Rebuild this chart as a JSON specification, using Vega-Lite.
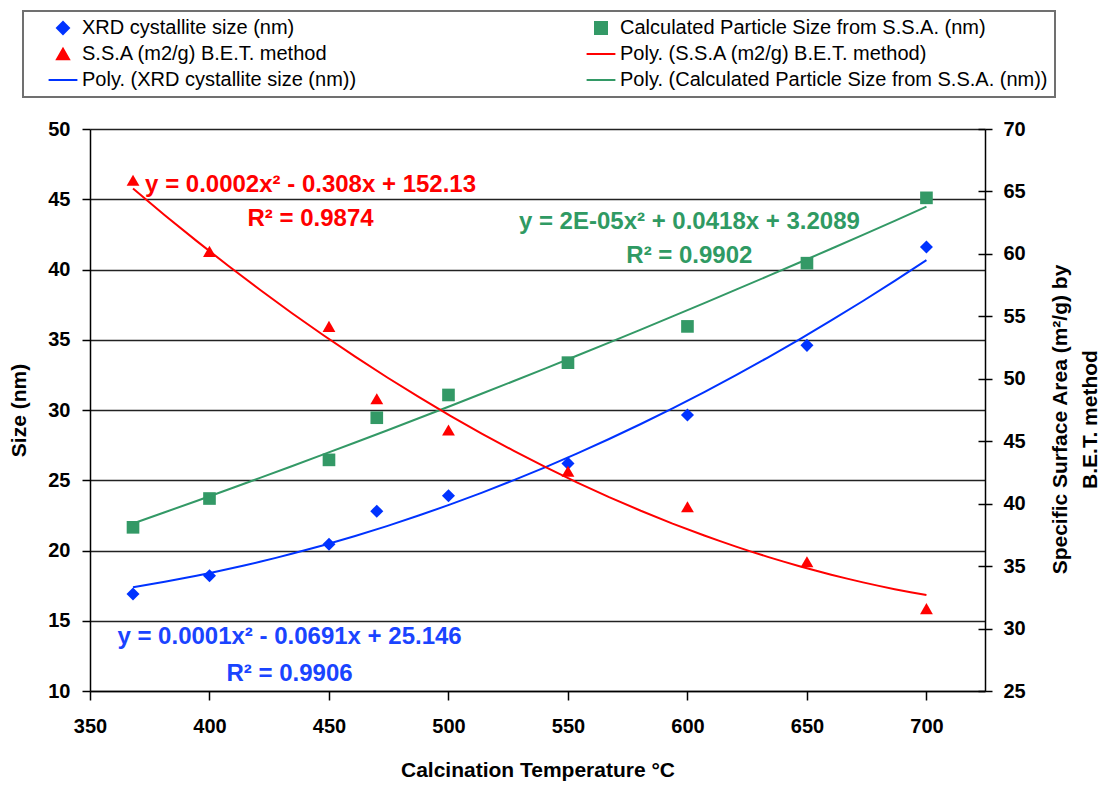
{
  "$schema": "https://vega.github.io/schema/vega-lite/v6.json",
  "width": 895,
  "height": 562,
  "autosize": {"type": "none"},
  "padding": {"left": 90, "top": 129, "right": 114, "bottom": 94},
  "background": "white",
  "config": {
    "font": "Liberation Sans",
    "view": {"stroke": null},
    "axis": {
      "labelFont": "Liberation Sans",
      "labelFontSize": 20,
      "labelFontWeight": "bold",
      "labelColor": "#000000",
      "titleFont": "Liberation Sans",
      "titleFontSize": 21,
      "titleFontWeight": "bold",
      "titleColor": "#000000",
      "domainColor": "#000000",
      "domainWidth": 1.5,
      "tickColor": "#000000",
      "tickWidth": 1.5,
      "labelFlush": false,
      "labelOverlap": false
    }
  },
  "data": {
    "values": [
      {"temp": 368, "value": 16.9, "series": "XRD cystallite size (nm)", "trend": "Poly. (XRD cystallite size (nm))"},
      {"temp": 400, "value": 18.2, "series": "XRD cystallite size (nm)", "trend": "Poly. (XRD cystallite size (nm))"},
      {"temp": 450, "value": 20.45, "series": "XRD cystallite size (nm)", "trend": "Poly. (XRD cystallite size (nm))"},
      {"temp": 470, "value": 22.8, "series": "XRD cystallite size (nm)", "trend": "Poly. (XRD cystallite size (nm))"},
      {"temp": 500, "value": 23.9, "series": "XRD cystallite size (nm)", "trend": "Poly. (XRD cystallite size (nm))"},
      {"temp": 550, "value": 26.2, "series": "XRD cystallite size (nm)", "trend": "Poly. (XRD cystallite size (nm))"},
      {"temp": 600, "value": 29.65, "series": "XRD cystallite size (nm)", "trend": "Poly. (XRD cystallite size (nm))"},
      {"temp": 650, "value": 34.6, "series": "XRD cystallite size (nm)", "trend": "Poly. (XRD cystallite size (nm))"},
      {"temp": 700, "value": 41.6, "series": "XRD cystallite size (nm)", "trend": "Poly. (XRD cystallite size (nm))"},
      {"temp": 368, "value": 21.65, "series": "Calculated Particle Size from S.S.A. (nm)", "trend": "Poly. (Calculated Particle Size from S.S.A. (nm))"},
      {"temp": 400, "value": 23.7, "series": "Calculated Particle Size from S.S.A. (nm)", "trend": "Poly. (Calculated Particle Size from S.S.A. (nm))"},
      {"temp": 450, "value": 26.45, "series": "Calculated Particle Size from S.S.A. (nm)", "trend": "Poly. (Calculated Particle Size from S.S.A. (nm))"},
      {"temp": 470, "value": 29.45, "series": "Calculated Particle Size from S.S.A. (nm)", "trend": "Poly. (Calculated Particle Size from S.S.A. (nm))"},
      {"temp": 500, "value": 31.07, "series": "Calculated Particle Size from S.S.A. (nm)", "trend": "Poly. (Calculated Particle Size from S.S.A. (nm))"},
      {"temp": 550, "value": 33.37, "series": "Calculated Particle Size from S.S.A. (nm)", "trend": "Poly. (Calculated Particle Size from S.S.A. (nm))"},
      {"temp": 600, "value": 35.95, "series": "Calculated Particle Size from S.S.A. (nm)", "trend": "Poly. (Calculated Particle Size from S.S.A. (nm))"},
      {"temp": 650, "value": 40.45, "series": "Calculated Particle Size from S.S.A. (nm)", "trend": "Poly. (Calculated Particle Size from S.S.A. (nm))"},
      {"temp": 700, "value": 45.1, "series": "Calculated Particle Size from S.S.A. (nm)", "trend": "Poly. (Calculated Particle Size from S.S.A. (nm))"},
      {"temp": 368, "value": 65.9, "series": "S.S.A (m2/g) B.E.T. method", "trend": "Poly. (S.S.A (m2/g) B.E.T. method)"},
      {"temp": 400, "value": 60.2, "series": "S.S.A (m2/g) B.E.T. method", "trend": "Poly. (S.S.A (m2/g) B.E.T. method)"},
      {"temp": 450, "value": 54.2, "series": "S.S.A (m2/g) B.E.T. method", "trend": "Poly. (S.S.A (m2/g) B.E.T. method)"},
      {"temp": 470, "value": 48.4, "series": "S.S.A (m2/g) B.E.T. method", "trend": "Poly. (S.S.A (m2/g) B.E.T. method)"},
      {"temp": 500, "value": 45.9, "series": "S.S.A (m2/g) B.E.T. method", "trend": "Poly. (S.S.A (m2/g) B.E.T. method)"},
      {"temp": 550, "value": 42.6, "series": "S.S.A (m2/g) B.E.T. method", "trend": "Poly. (S.S.A (m2/g) B.E.T. method)"},
      {"temp": 600, "value": 39.75, "series": "S.S.A (m2/g) B.E.T. method", "trend": "Poly. (S.S.A (m2/g) B.E.T. method)"},
      {"temp": 650, "value": 35.35, "series": "S.S.A (m2/g) B.E.T. method", "trend": "Poly. (S.S.A (m2/g) B.E.T. method)"},
      {"temp": 700, "value": 31.6, "series": "S.S.A (m2/g) B.E.T. method", "trend": "Poly. (S.S.A (m2/g) B.E.T. method)"}
    ]
  },
  "encoding": {
    "x": {
      "field": "temp",
      "type": "quantitative",
      "scale": {"domain": [350, 724.5], "nice": false, "zero": false},
      "axis": {
        "orient": "bottom",
        "values": [350, 400, 450, 500, 550, 600, 650, 700],
        "grid": false,
        "tickSize": 9,
        "labelPadding": 16,
        "title": "Calcination Temperature °C",
        "titlePadding": 23
      }
    }
  },
  "layer": [
    {
      "encoding": {
        "y": {
          "field": "value",
          "type": "quantitative",
          "scale": {"domain": [10, 50], "nice": false, "zero": false},
          "axis": {
            "orient": "left",
            "values": [10, 15, 20, 25, 30, 35, 40, 45, 50],
            "grid": true,
            "gridColor": "#222222",
            "gridWidth": 1.5,
            "tickSize": 8,
            "labelPadding": 12,
            "title": "Size (nm)",
            "titlePadding": 18
          }
        }
      },
      "layer": [
        {
          "transform": [{"filter": {"field": "series", "oneOf": ["XRD cystallite size (nm)", "Calculated Particle Size from S.S.A. (nm)"]}}],
          "mark": {"type": "point", "filled": true, "opacity": 1},
          "encoding": {
            "color": {"field": "series", "type": "nominal", "title": null,
              "scale": {"domain": ["XRD cystallite size (nm)", "S.S.A (m2/g) B.E.T. method", "Poly. (XRD cystallite size (nm))", "Calculated Particle Size from S.S.A. (nm)", "Poly. (S.S.A (m2/g) B.E.T. method)", "Poly. (Calculated Particle Size from S.S.A. (nm))"],
                        "range": ["#0033ff", "#ff0000", "#0033ff", "#339966", "#ff0000", "#339966"]},
              "legend": {"orient": "none", "legendX": -67, "legendY": -118, "columns": 2, "labelFont": "Liberation Sans", "labelFontSize": 20, "labelColor": "#000000", "labelLimit": 800, "padding": 7, "strokeColor": "#707070", "fillColor": "#ffffff", "clipHeight": 20, "rowPadding": 6, "columnPadding": 211, "symbolSize": 144, "symbolOffset": 23, "labelOffset": 9, "symbolStrokeWidth": 2,
                "labelExpr": "datum.label === 'Poly. (Calculated Particle Size from S.S.A. (nm))' ? datum.label + '\u00a0\u00a0\u00a0\u00a0\u00a0\u00a0\u00a0\u00a0' : datum.label",
                "encode": {"symbols": {"update": {"stroke": {"scale": "color", "field": "value"}}}, "legend": {"update": {"strokeWidth": {"value": 2}}}}}},
            "shape": {"field": "series", "type": "nominal", "title": null,
              "scale": {"domain": ["XRD cystallite size (nm)", "S.S.A (m2/g) B.E.T. method", "Poly. (XRD cystallite size (nm))", "Calculated Particle Size from S.S.A. (nm)", "Poly. (S.S.A (m2/g) B.E.T. method)", "Poly. (Calculated Particle Size from S.S.A. (nm))"],
                        "range": ["diamond", "triangle-up", "M-2.4,0L2.4,0", "square", "M-2.4,0L2.4,0", "M-2.4,0L2.4,0"]}},
            "size": {"field": "series", "type": "nominal", "legend": null,
              "scale": {"domain": ["XRD cystallite size (nm)", "S.S.A (m2/g) B.E.T. method", "Calculated Particle Size from S.S.A. (nm)"],
                        "range": [170, 160, 130]}}
          }
        },
        {
          "transform": [
            {"filter": {"field": "series", "oneOf": ["XRD cystallite size (nm)", "Calculated Particle Size from S.S.A. (nm)"]}},
            {"regression": "value", "on": "temp", "groupby": ["trend"], "method": "poly", "order": 2}
          ],
          "mark": {"type": "line", "strokeWidth": 2},
          "encoding": {
            "color": {"field": "trend", "type": "nominal", "title": null,
              "scale": {"domain": ["XRD cystallite size (nm)", "S.S.A (m2/g) B.E.T. method", "Poly. (XRD cystallite size (nm))", "Calculated Particle Size from S.S.A. (nm)", "Poly. (S.S.A (m2/g) B.E.T. method)", "Poly. (Calculated Particle Size from S.S.A. (nm))"],
                        "range": ["#0033ff", "#ff0000", "#0033ff", "#339966", "#ff0000", "#339966"]},
              "legend": {"orient": "none", "legendX": -67, "legendY": -118, "columns": 2, "labelFont": "Liberation Sans", "labelFontSize": 20, "labelColor": "#000000", "labelLimit": 800, "padding": 7, "strokeColor": "#707070", "fillColor": "#ffffff", "clipHeight": 20, "rowPadding": 6, "columnPadding": 211, "symbolSize": 144, "symbolOffset": 23, "labelOffset": 9, "symbolStrokeWidth": 2,
                "labelExpr": "datum.label === 'Poly. (Calculated Particle Size from S.S.A. (nm))' ? datum.label + '\u00a0\u00a0\u00a0\u00a0\u00a0\u00a0\u00a0\u00a0' : datum.label",
                "encode": {"symbols": {"update": {"stroke": {"scale": "color", "field": "value"}}}, "legend": {"update": {"strokeWidth": {"value": 2}}}}}}
          }
        },
        {
          "transform": [{"filter": "datum.temp === 368 && datum.series === 'XRD cystallite size (nm)'"}],
          "mark": {"type": "text", "text": ["y = 0.0002x² - 0.308x + 152.13", "R² = 0.9874"], "font": "Liberation Sans", "fontSize": 24, "fontWeight": "bold", "fill": "#ff0000", "align": "center", "baseline": "middle", "lineHeight": 34},
          "encoding": {"x": {"datum": 442.3, "type": "quantitative"}, "y": {"datum": 46.0, "type": "quantitative"}}
        },
        {
          "transform": [{"filter": "datum.temp === 368 && datum.series === 'XRD cystallite size (nm)'"}],
          "mark": {"type": "text", "text": ["y = 2E-05x² + 0.0418x + 3.2089", "R² = 0.9902"], "font": "Liberation Sans", "fontSize": 24, "fontWeight": "bold", "fill": "#2f9a63", "align": "center", "baseline": "middle", "lineHeight": 34},
          "encoding": {"x": {"datum": 600.8, "type": "quantitative"}, "y": {"datum": 43.38, "type": "quantitative"}}
        },
        {
          "transform": [{"filter": "datum.temp === 368 && datum.series === 'XRD cystallite size (nm)'"}],
          "mark": {"type": "text", "text": ["y = 0.0001x² - 0.0691x + 25.146", "R² = 0.9906"], "font": "Liberation Sans", "fontSize": 24, "fontWeight": "bold", "fill": "#1a44ff", "align": "center", "baseline": "middle", "lineHeight": 37},
          "encoding": {"x": {"datum": 433.5, "type": "quantitative"}, "y": {"datum": 13.84, "type": "quantitative"}}
        }
      ]
    },
    {
      "transform": [{"filter": {"field": "series", "equal": "S.S.A (m2/g) B.E.T. method"}}],
      "encoding": {
        "y": {
          "field": "value",
          "type": "quantitative",
          "scale": {"domain": [25, 70], "nice": false, "zero": false},
          "axis": {
            "orient": "right",
            "values": [25, 30, 35, 40, 45, 50, 55, 60, 65, 70],
            "grid": false,
            "tickSize": 7,
            "labelPadding": 11,
            "title": ["Specific Surface Area (m²/g) by", "B.E.T. method"],
            "titleAngle": 270,
            "titleBaseline": "top",
            "titleAlign": "center",
            "titleLineHeight": 30,
            "titleX": 64,
            "titleY": 290
          }
        }
      },
      "layer": [
        {
          "mark": {"type": "point", "filled": true, "opacity": 1},
          "encoding": {
            "color": {"field": "series", "type": "nominal", "title": null,
              "scale": {"domain": ["XRD cystallite size (nm)", "S.S.A (m2/g) B.E.T. method", "Poly. (XRD cystallite size (nm))", "Calculated Particle Size from S.S.A. (nm)", "Poly. (S.S.A (m2/g) B.E.T. method)", "Poly. (Calculated Particle Size from S.S.A. (nm))"],
                        "range": ["#0033ff", "#ff0000", "#0033ff", "#339966", "#ff0000", "#339966"]},
              "legend": {"orient": "none", "legendX": -67, "legendY": -118, "columns": 2, "labelFont": "Liberation Sans", "labelFontSize": 20, "labelColor": "#000000", "labelLimit": 800, "padding": 7, "strokeColor": "#707070", "fillColor": "#ffffff", "clipHeight": 20, "rowPadding": 6, "columnPadding": 211, "symbolSize": 144, "symbolOffset": 23, "labelOffset": 9, "symbolStrokeWidth": 2,
                "labelExpr": "datum.label === 'Poly. (Calculated Particle Size from S.S.A. (nm))' ? datum.label + '\u00a0\u00a0\u00a0\u00a0\u00a0\u00a0\u00a0\u00a0' : datum.label",
                "encode": {"symbols": {"update": {"stroke": {"scale": "color", "field": "value"}}}, "legend": {"update": {"strokeWidth": {"value": 2}}}}}},
            "shape": {"field": "series", "type": "nominal", "title": null,
              "scale": {"domain": ["XRD cystallite size (nm)", "S.S.A (m2/g) B.E.T. method", "Poly. (XRD cystallite size (nm))", "Calculated Particle Size from S.S.A. (nm)", "Poly. (S.S.A (m2/g) B.E.T. method)", "Poly. (Calculated Particle Size from S.S.A. (nm))"],
                        "range": ["diamond", "triangle-up", "M-2.4,0L2.4,0", "square", "M-2.4,0L2.4,0", "M-2.4,0L2.4,0"]}},
            "size": {"field": "series", "type": "nominal", "legend": null,
              "scale": {"domain": ["XRD cystallite size (nm)", "S.S.A (m2/g) B.E.T. method", "Calculated Particle Size from S.S.A. (nm)"],
                        "range": [170, 160, 130]}}
          }
        },
        {
          "transform": [{"regression": "value", "on": "temp", "groupby": ["trend"], "method": "poly", "order": 2}],
          "mark": {"type": "line", "strokeWidth": 2},
          "encoding": {
            "color": {"field": "trend", "type": "nominal", "title": null,
              "scale": {"domain": ["XRD cystallite size (nm)", "S.S.A (m2/g) B.E.T. method", "Poly. (XRD cystallite size (nm))", "Calculated Particle Size from S.S.A. (nm)", "Poly. (S.S.A (m2/g) B.E.T. method)", "Poly. (Calculated Particle Size from S.S.A. (nm))"],
                        "range": ["#0033ff", "#ff0000", "#0033ff", "#339966", "#ff0000", "#339966"]},
              "legend": {"orient": "none", "legendX": -67, "legendY": -118, "columns": 2, "labelFont": "Liberation Sans", "labelFontSize": 20, "labelColor": "#000000", "labelLimit": 800, "padding": 7, "strokeColor": "#707070", "fillColor": "#ffffff", "clipHeight": 20, "rowPadding": 6, "columnPadding": 211, "symbolSize": 144, "symbolOffset": 23, "labelOffset": 9, "symbolStrokeWidth": 2,
                "labelExpr": "datum.label === 'Poly. (Calculated Particle Size from S.S.A. (nm))' ? datum.label + '\u00a0\u00a0\u00a0\u00a0\u00a0\u00a0\u00a0\u00a0' : datum.label",
                "encode": {"symbols": {"update": {"stroke": {"scale": "color", "field": "value"}}}, "legend": {"update": {"strokeWidth": {"value": 2}}}}}}
          }
        }
      ]
    },
    {
      "transform": [{"filter": {"field": "series", "equal": "S.S.A (m2/g) B.E.T. method"}}],
      "mark": {"type": "point", "opacity": 0},
      "encoding": {
        "y": {
          "field": "value",
          "type": "quantitative",
          "scale": {"domain": [25, 70], "nice": false, "zero": false},
          "axis": {
            "orient": "right",
            "values": [25, 30, 35, 40, 45, 50, 55, 60, 65, 70],
            "grid": false,
            "domain": false,
            "labels": false,
            "tickSize": -7,
            "title": null
          }
        }
      }
    }
  ],
  "resolve": {"scale": {"y": "independent"}}
}
